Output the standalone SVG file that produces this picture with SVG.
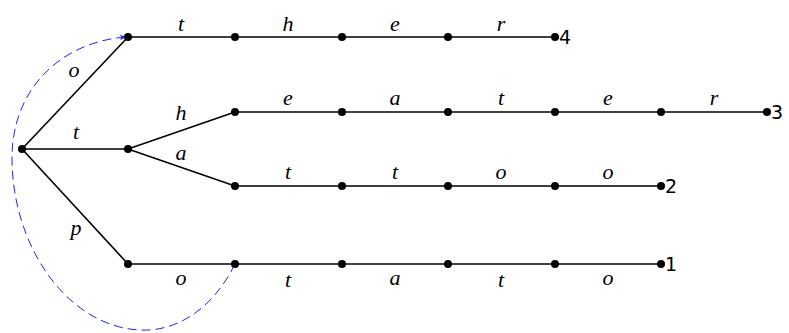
<svg xmlns="http://www.w3.org/2000/svg" width="789" height="333" viewBox="0 0 789 333">
<style>
.e{stroke:#000;stroke-width:1.6;fill:none}
.d{fill:#000}
.l{font-family:"Liberation Serif",serif;font-style:italic;font-size:22px;text-anchor:middle}
.n{font-family:"DejaVu Sans",sans-serif;font-size:19px}
</style>
<defs>
<marker id="ah" viewBox="0 0 10 10" refX="9" refY="5" markerWidth="7" markerHeight="7" orient="auto" markerUnits="userSpaceOnUse">
<path d="M0,1 L10,5 L0,9 L3,5 Z" fill="#2020ff"/>
</marker>
</defs>
<g id="connectors">
<path class="e" d="M22,149 L128,37 M22,149 L128,149 M22,149 L128,264 M128,149 L235,112 M128,149 L235,186"/>
<path class="e" d="M128,37 H555 M235,112 H767 M235,186 H661 M128,264 H661"/>
<path d="M235,264 C215,305 180,332 140,330 C70,327 13,250 12,160 C11,90 60,42 126,37" fill="none" stroke="#2020ff" stroke-width="1" stroke-dasharray="9,5" marker-end="url(#ah)"/>
<text class="l" x="74" y="77">o</text>
<text class="l" x="76" y="139">t</text>
<text class="l" x="76" y="235">p</text>
<text class="l" x="181" y="120">h</text>
<text class="l" x="181" y="160">a</text>
<text class="l" x="181" y="31">t</text>
<text class="l" x="288" y="31">h</text>
<text class="l" x="395" y="31">e</text>
<text class="l" x="501" y="31">r</text>
<text class="l" x="288" y="105">e</text>
<text class="l" x="395" y="105">a</text>
<text class="l" x="501" y="105">t</text>
<text class="l" x="608" y="105">e</text>
<text class="l" x="714" y="105">r</text>
<text class="l" x="288" y="179">t</text>
<text class="l" x="395" y="179">t</text>
<text class="l" x="501" y="179">o</text>
<text class="l" x="608" y="179">o</text>
<text class="l" x="181" y="285">o</text>
<text class="l" x="288" y="287">t</text>
<text class="l" x="395" y="285">a</text>
<text class="l" x="501" y="287">t</text>
<text class="l" x="608" y="285">o</text>
</g>
<g id="root"><circle class="d" cx="22" cy="149" r="4"/></g>
<g id="n_o"><circle class="d" cx="128" cy="37" r="4"/></g>
<g id="n_t"><circle class="d" cx="128" cy="149" r="4"/></g>
<g id="n_p"><circle class="d" cx="128" cy="264" r="4"/></g>
<g id="n_ot"><circle class="d" cx="235" cy="37" r="4"/></g>
<g id="n_oth"><circle class="d" cx="342" cy="37" r="4"/></g>
<g id="n_othe"><circle class="d" cx="448" cy="37" r="4"/></g>
<g id="leaf4"><circle class="d" cx="555" cy="37" r="4"/><text class="n" x="559" y="44">4</text></g>
<g id="n_th"><circle class="d" cx="235" cy="112" r="4"/></g>
<g id="n_the"><circle class="d" cx="342" cy="112" r="4"/></g>
<g id="n_thea"><circle class="d" cx="448" cy="112" r="4"/></g>
<g id="n_theat"><circle class="d" cx="555" cy="112" r="4"/></g>
<g id="n_theate"><circle class="d" cx="661" cy="112" r="4"/></g>
<g id="leaf3"><circle class="d" cx="767" cy="112" r="4"/><text class="n" x="771" y="119">3</text></g>
<g id="n_ta"><circle class="d" cx="235" cy="186" r="4"/></g>
<g id="n_tat"><circle class="d" cx="342" cy="186" r="4"/></g>
<g id="n_tatt"><circle class="d" cx="448" cy="186" r="4"/></g>
<g id="n_tatto"><circle class="d" cx="555" cy="186" r="4"/></g>
<g id="leaf2"><circle class="d" cx="661" cy="186" r="4"/><text class="n" x="665" y="193">2</text></g>
<g id="n_po"><circle class="d" cx="235" cy="264" r="4"/></g>
<g id="n_pot"><circle class="d" cx="342" cy="264" r="4"/></g>
<g id="n_pota"><circle class="d" cx="448" cy="264" r="4"/></g>
<g id="n_potat"><circle class="d" cx="555" cy="264" r="4"/></g>
<g id="leaf1"><circle class="d" cx="661" cy="264" r="4"/><text class="n" x="665" y="271">1</text></g>
</svg>
